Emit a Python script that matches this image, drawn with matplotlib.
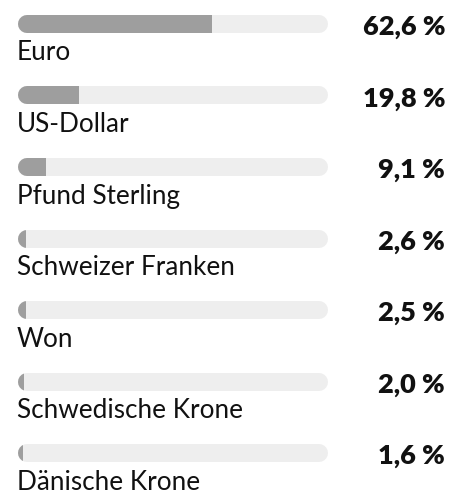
import matplotlib
matplotlib.use("Agg")
import matplotlib.pyplot as plt
from matplotlib.patches import Rectangle

waehrungen = ["Euro", "US-Dollar", "Pfund Sterling", "Schweizer Franken",
              "Won", "Schwedische Krone", "Dänische Krone"]
anteile = [62.6, 19.8, 9.1, 2.6, 2.5, 2.0, 1.6]

plt.rcParams['font.family'] = ['Lato', 'DejaVu Sans']

W, H = 462, 494
fig = plt.figure(figsize=(W / 100, H / 100), dpi=100)

# bar area in pixels: x 18..328, row centres 24 + 71.5*i from top
x0, x1 = 18, 328
row0, step = 24, 71.5
bar_px = 18
ax = fig.add_axes([x0 / W, 0, (x1 - x0) / W, 1])
ax.set_xlim(0, 100)
ax.set_ylim((H - row0) / step, -row0 / step)
ax.axis('off')

px = 100 / (x1 - x0)          # data units per pixel in x
r = bar_px / 2 * px
lw = bar_px * 72 / 100

for i, (name, v) in enumerate(zip(waehrungen, anteile)):
    # track
    ax.plot([r, 100 - r], [i, i], color='#eeeeee', lw=lw,
            solid_capstyle='round')
    # filled part: same rounded shape clipped at the value
    ln, = ax.plot([r, 100 - r], [i, i], color='#9e9e9e', lw=lw,
                  solid_capstyle='round')
    clip = Rectangle((-10, i - 0.5), v + 10, 1, transform=ax.transData)
    ln.set_clip_path(clip)

    ax.text(-0.3, i + 36.5 / step, name, fontsize=18.8, color='#111111',
            va='baseline', ha='left')
    ax.text(100 + (445 - x1) * px, i + 11 / step,
            f"{v:.1f}".replace('.', ',') + " %", fontsize=19.5,
            fontweight='heavy', color='#111111', va='baseline', ha='right')

fig.savefig("out.png", dpi=100)
